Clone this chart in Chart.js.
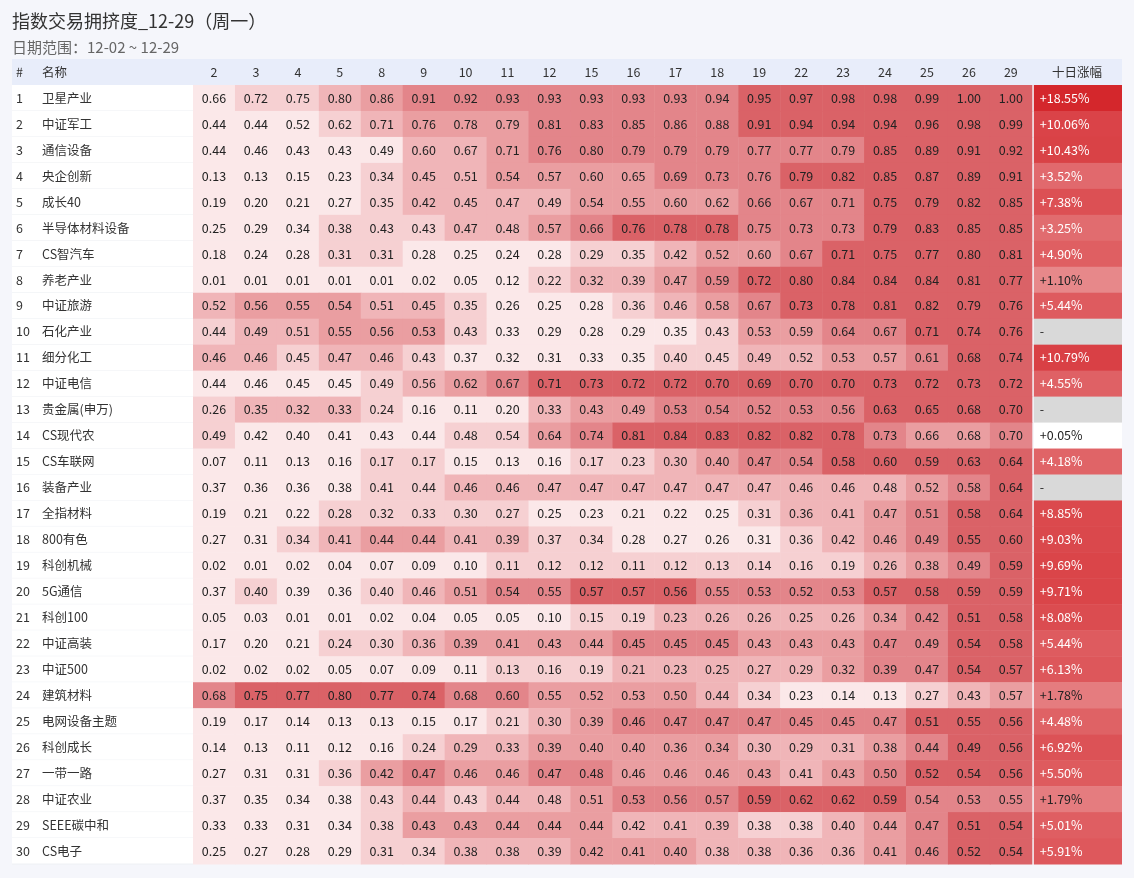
<!DOCTYPE html>
<html><head><meta charset="utf-8">
<script src="https://cdn.jsdelivr.net/npm/chart.js@4"></script>
<style>html,body{margin:0;padding:0;background:#f5f6fb}#w{width:1134px;height:878px}</style>
</head><body><div id="w"><canvas id="c"></canvas></div>
<script>
const days=["2","3","4","5","8","9","10","11","12","15","16","17","18","19","22","23","24","25","26","29"];
const names=["卫星产业","中证军工","通信设备","央企创新","成长40","半导体材料设备","CS智汽车","养老产业","中证旅游","石化产业","细分化工","中证电信","贵金属(申万)","CS现代农","CS车联网","装备产业","全指材料","800有色","科创机械","5G通信","科创100","中证高装","中证500","建筑材料","电网设备主题","科创成长","一带一路","中证农业","SEEE碳中和","CS电子"];
const values=[
[0.66,0.72,0.75,0.80,0.86,0.91,0.92,0.93,0.93,0.93,0.93,0.93,0.94,0.95,0.97,0.98,0.98,0.99,1.00,1.00],
[0.44,0.44,0.52,0.62,0.71,0.76,0.78,0.79,0.81,0.83,0.85,0.86,0.88,0.91,0.94,0.94,0.94,0.96,0.98,0.99],
[0.44,0.46,0.43,0.43,0.49,0.60,0.67,0.71,0.76,0.80,0.79,0.79,0.79,0.77,0.77,0.79,0.85,0.89,0.91,0.92],
[0.13,0.13,0.15,0.23,0.34,0.45,0.51,0.54,0.57,0.60,0.65,0.69,0.73,0.76,0.79,0.82,0.85,0.87,0.89,0.91],
[0.19,0.20,0.21,0.27,0.35,0.42,0.45,0.47,0.49,0.54,0.55,0.60,0.62,0.66,0.67,0.71,0.75,0.79,0.82,0.85],
[0.25,0.29,0.34,0.38,0.43,0.43,0.47,0.48,0.57,0.66,0.76,0.78,0.78,0.75,0.73,0.73,0.79,0.83,0.85,0.85],
[0.18,0.24,0.28,0.31,0.31,0.28,0.25,0.24,0.28,0.29,0.35,0.42,0.52,0.60,0.67,0.71,0.75,0.77,0.80,0.81],
[0.01,0.01,0.01,0.01,0.01,0.02,0.05,0.12,0.22,0.32,0.39,0.47,0.59,0.72,0.80,0.84,0.84,0.84,0.81,0.77],
[0.52,0.56,0.55,0.54,0.51,0.45,0.35,0.26,0.25,0.28,0.36,0.46,0.58,0.67,0.73,0.78,0.81,0.82,0.79,0.76],
[0.44,0.49,0.51,0.55,0.56,0.53,0.43,0.33,0.29,0.28,0.29,0.35,0.43,0.53,0.59,0.64,0.67,0.71,0.74,0.76],
[0.46,0.46,0.45,0.47,0.46,0.43,0.37,0.32,0.31,0.33,0.35,0.40,0.45,0.49,0.52,0.53,0.57,0.61,0.68,0.74],
[0.44,0.46,0.45,0.45,0.49,0.56,0.62,0.67,0.71,0.73,0.72,0.72,0.70,0.69,0.70,0.70,0.73,0.72,0.73,0.72],
[0.26,0.35,0.32,0.33,0.24,0.16,0.11,0.20,0.33,0.43,0.49,0.53,0.54,0.52,0.53,0.56,0.63,0.65,0.68,0.70],
[0.49,0.42,0.40,0.41,0.43,0.44,0.48,0.54,0.64,0.74,0.81,0.84,0.83,0.82,0.82,0.78,0.73,0.66,0.68,0.70],
[0.07,0.11,0.13,0.16,0.17,0.17,0.15,0.13,0.16,0.17,0.23,0.30,0.40,0.47,0.54,0.58,0.60,0.59,0.63,0.64],
[0.37,0.36,0.36,0.38,0.41,0.44,0.46,0.46,0.47,0.47,0.47,0.47,0.47,0.47,0.46,0.46,0.48,0.52,0.58,0.64],
[0.19,0.21,0.22,0.28,0.32,0.33,0.30,0.27,0.25,0.23,0.21,0.22,0.25,0.31,0.36,0.41,0.47,0.51,0.58,0.64],
[0.27,0.31,0.34,0.41,0.44,0.44,0.41,0.39,0.37,0.34,0.28,0.27,0.26,0.31,0.36,0.42,0.46,0.49,0.55,0.60],
[0.02,0.01,0.02,0.04,0.07,0.09,0.10,0.11,0.12,0.12,0.11,0.12,0.13,0.14,0.16,0.19,0.26,0.38,0.49,0.59],
[0.37,0.40,0.39,0.36,0.40,0.46,0.51,0.54,0.55,0.57,0.57,0.56,0.55,0.53,0.52,0.53,0.57,0.58,0.59,0.59],
[0.05,0.03,0.01,0.01,0.02,0.04,0.05,0.05,0.10,0.15,0.19,0.23,0.26,0.26,0.25,0.26,0.34,0.42,0.51,0.58],
[0.17,0.20,0.21,0.24,0.30,0.36,0.39,0.41,0.43,0.44,0.45,0.45,0.45,0.43,0.43,0.43,0.47,0.49,0.54,0.58],
[0.02,0.02,0.02,0.05,0.07,0.09,0.11,0.13,0.16,0.19,0.21,0.23,0.25,0.27,0.29,0.32,0.39,0.47,0.54,0.57],
[0.68,0.75,0.77,0.80,0.77,0.74,0.68,0.60,0.55,0.52,0.53,0.50,0.44,0.34,0.23,0.14,0.13,0.27,0.43,0.57],
[0.19,0.17,0.14,0.13,0.13,0.15,0.17,0.21,0.30,0.39,0.46,0.47,0.47,0.47,0.45,0.45,0.47,0.51,0.55,0.56],
[0.14,0.13,0.11,0.12,0.16,0.24,0.29,0.33,0.39,0.40,0.40,0.36,0.34,0.30,0.29,0.31,0.38,0.44,0.49,0.56],
[0.27,0.31,0.31,0.36,0.42,0.47,0.46,0.46,0.47,0.48,0.46,0.46,0.46,0.43,0.41,0.43,0.50,0.52,0.54,0.56],
[0.37,0.35,0.34,0.38,0.43,0.44,0.43,0.44,0.48,0.51,0.53,0.56,0.57,0.59,0.62,0.62,0.59,0.54,0.53,0.55],
[0.33,0.33,0.31,0.34,0.38,0.43,0.43,0.44,0.44,0.44,0.42,0.41,0.39,0.38,0.38,0.40,0.44,0.47,0.51,0.54],
[0.25,0.27,0.28,0.29,0.31,0.34,0.38,0.38,0.39,0.42,0.41,0.40,0.38,0.38,0.36,0.36,0.41,0.46,0.52,0.54]];
const gains=[18.55,10.06,10.43,3.52,7.38,3.25,4.90,1.10,5.44,null,10.79,4.55,null,0.05,4.18,null,8.85,9.03,9.69,9.71,8.08,5.44,6.13,1.78,4.48,6.92,5.50,1.79,5.01,5.91];
const palette=["#fbe8e9","#f6d0d2","#f0b5b8","#ea9ea1","#e3858a","#da6267"];
const FONT='"Noto Sans CJK SC","Noto Sans",sans-serif';
function mix(a,b,t){const p=h=>[1,3,5].map(i=>parseInt(h.substr(i,2),16));const A=p(a),B=p(b);return 'rgb('+A.map((v,i)=>Math.round(v+(B[i]-v)*t)).join(',')+')';}
const table={id:'table',afterDraw(ch){
 const c=ch.ctx,x=ch.scales.x,y=ch.scales.y;
 const gx0=x.getPixelForValue(20),gx1=x.getPixelForValue(22.15);
 c.save();
 c.textBaseline='middle';
 c.fillStyle='#333';c.font='18px '+FONT;c.textAlign='left';c.fillText('指数交易拥挤度_12-29（周一）',12,21);
 c.fillStyle='#666';c.font='15px '+FONT;c.fillText('日期范围：12-02 ~ 12-29',12,47);
 const hy0=y.getPixelForValue(-1),hy1=y.getPixelForValue(0);
 c.fillStyle='#e8edfa';c.fillRect(12,hy0,gx1-12,hy1-hy0);
 c.fillStyle='#333';c.font='12.5px '+FONT;
 const hm=(hy0+hy1)/2;
 c.fillText('#',16,hm);c.fillText('名称',42,hm);
 c.textAlign='center';
 days.forEach((d,i)=>c.fillText(d,(x.getPixelForValue(i)+x.getPixelForValue(i+1))/2,hm));
 c.fillText('十日涨幅',(gx0+gx1)/2,hm);
 const gmax=Math.max(...gains.filter(g=>g!==null));
 values.forEach((row,r)=>{
  const y0=y.getPixelForValue(r),y1=y.getPixelForValue(r+1),ym=(y0+y1)/2;
  c.fillStyle='#fff';c.fillRect(12,y0,x.getPixelForValue(0)-12,y1-y0);
  const mn=Math.min(...row),mx=Math.max(...row);
  row.forEach((v,i)=>{
   const t=mx>mn?(v-mn)/(mx-mn):0;
   const k=Math.min(5,Math.floor(t*5.999));
   const x0=x.getPixelForValue(i),x1=x.getPixelForValue(i+1);
   c.fillStyle=palette[k];c.fillRect(x0,y0,x1-x0+0.5,y1-y0+0.5);
   c.fillStyle='#222';c.textAlign='center';c.fillText(v.toFixed(2),(x0+x1)/2,ym);
  });
  const g=gains[r];
  let col,txt;
  if(g===null){col='#d9d9d9';txt='-';}
  else{const t=g/gmax;col=t<0.02?'#ffffff':mix('#f5d0d1','#d4272c',Math.min(1,Math.pow(t,0.3)));txt='+'+g.toFixed(2)+'%';}
  c.fillStyle=col;c.fillRect(gx0+2,y0,gx1-gx0-2,y1-y0+0.5);
  c.fillStyle=(g!==null&&g>2)?'#fff':'#222';c.textAlign='left';c.fillText(txt,gx0+8,ym);
  c.fillStyle='#333';c.fillText(String(r+1),16,ym);c.fillText(names[r],42,ym);
  c.strokeStyle='#eef0f4';c.lineWidth=1;c.beginPath();c.moveTo(12,y1);c.lineTo(x.getPixelForValue(0),y1);c.stroke();
 });
 c.restore();
}};
new Chart(document.getElementById('c'),{
 type:'scatter',data:{datasets:[{data:[]}]},
 options:{responsive:true,maintainAspectRatio:false,animation:false,
  layout:{padding:{left:193,right:12,top:85,bottom:14}},
  plugins:{legend:{display:false},tooltip:{enabled:false}},
  scales:{x:{type:'linear',min:0,max:22.15,display:false},
          y:{type:'linear',min:0,max:30,reverse:true,display:false}}},
 plugins:[table]});
</script></body></html>
